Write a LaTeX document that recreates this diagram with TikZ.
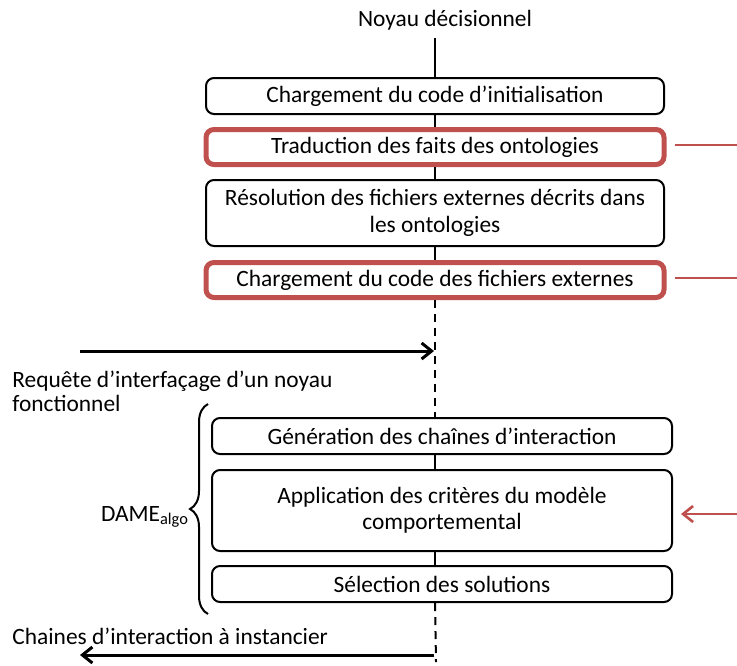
\documentclass[tikz,border=0pt]{standalone}
\usepackage{fontspec}
\setmainfont{Carlito}
\usepackage{tikz}
\usetikzlibrary{arrows.meta,decorations.pathreplacing}
\definecolor{rougebrique}{HTML}{C0504D}

\begin{document}
\begin{tikzpicture}[x=0.5pt, y=-0.5pt, >={Straight Barb[length=5pt, width=8pt]},
	boite/.style={draw, rounded corners=4pt, line width=1pt, fill=white, minimum width=229pt, minimum height=18pt, inner sep=2pt, align=center, font=\fontsize{11.7}{13.2}\selectfont},
	boiterouge/.style={boite, draw=rougebrique, line width=2.5pt, minimum height=17.5pt},
	axe/.style={line width=1pt},
	pointille/.style={line width=1pt, dash pattern=on 4pt off 3pt},
	fleche/.style={->, line width=1.5pt},
	liaison/.style={line width=1.3pt, draw=rougebrique},
	etiquette/.style={font=\fontsize{11.7}{12}\selectfont, align=left, inner sep=0pt}]

	\useasboundingbox (0,0) rectangle (737,665);

	% noyau decisionnel
	\node[etiquette] (titre) at (445,20) {Noyau décisionnel};
	\node[boite] (b1) at (435,96) {Chargement du code d’initialisation};
	\node[boiterouge] (b2) at (435,147) {Traduction des faits des ontologies};
	\node[boite, minimum height=33pt] (b3) at (435,213) {Résolution des fichiers externes décrits dans\\les ontologies};
	\node[boiterouge] (b4) at (435,280) {Chargement du code des fichiers externes};

	% DAME algo
	\node[boite, minimum width=230pt] (b5) at (442,436) {Génération des chaînes d’interaction};
	\node[boite, minimum width=230pt, minimum height=40.5pt] (b6) at (442,510.5) {Application des critères du modèle\\comportemental};
	\node[boite, minimum width=230pt] (b7) at (442,584) {Sélection des solutions};

	% axe vertical
	\draw[axe] ([yshift=-4pt]titre.south -| b1.north) -- (b1.north);
	\draw[axe] (b1) -- (b2);
	\draw[axe] (b2) -- (b3);
	\draw[axe] (b3) -- (b4);
	\draw[pointille] (b4.south) -- (b4.south |- b5.north);
	\draw[axe] (b4.south |- b5.south) -- (b4.south |- b6.north);
	\draw[axe] (b4.south |- b6.south) -- (b4.south |- b7.north);
	\coordinate (bas) at (436,662);
	\draw[pointille] (b4.south |- b7.south) -- (bas);

	% requete et reponse
	\coordinate (reqdep) at (80,351);
	\coordinate (req) at (434,351);
	\draw[fleche] (reqdep) -- (req);
	\node[etiquette, anchor=north west] (lreq) at (12,371) {Requête d’interfaçage d’un noyau\\fonctionnel};
	\coordinate (rep) at (434,655);
	\coordinate (repfin) at (80,655);
	\draw[fleche] (rep) -- (repfin);
	\node[etiquette, anchor=west] (lrep) at (12,636) {Chaines d’interaction à instancier};

	% accolade
	\coordinate (acchaut) at (208,404);
	\coordinate (accbas) at (208,614);
	\draw[line width=1pt, decorate, decoration={brace, amplitude=9pt}] (accbas) -- (acchaut);
	\node[etiquette] (dame) at (145,517) {DAME\textsubscript{algo}};

	% liens vers l'exterieur
	\coordinate (r2) at (737,145);
	\coordinate (r4) at (737,278);
	\coordinate (r6) at (737,514);
	\draw[liaison, shorten <=4pt] (b2.east |- r2) -- (r2);
	\draw[liaison, shorten <=4pt] (b4.east |- r4) -- (r4);
	\draw[liaison, ->, color=rougebrique, shorten >=4pt] (r6) -- (r6 -| b6.east);
\end{tikzpicture}
\end{document}
